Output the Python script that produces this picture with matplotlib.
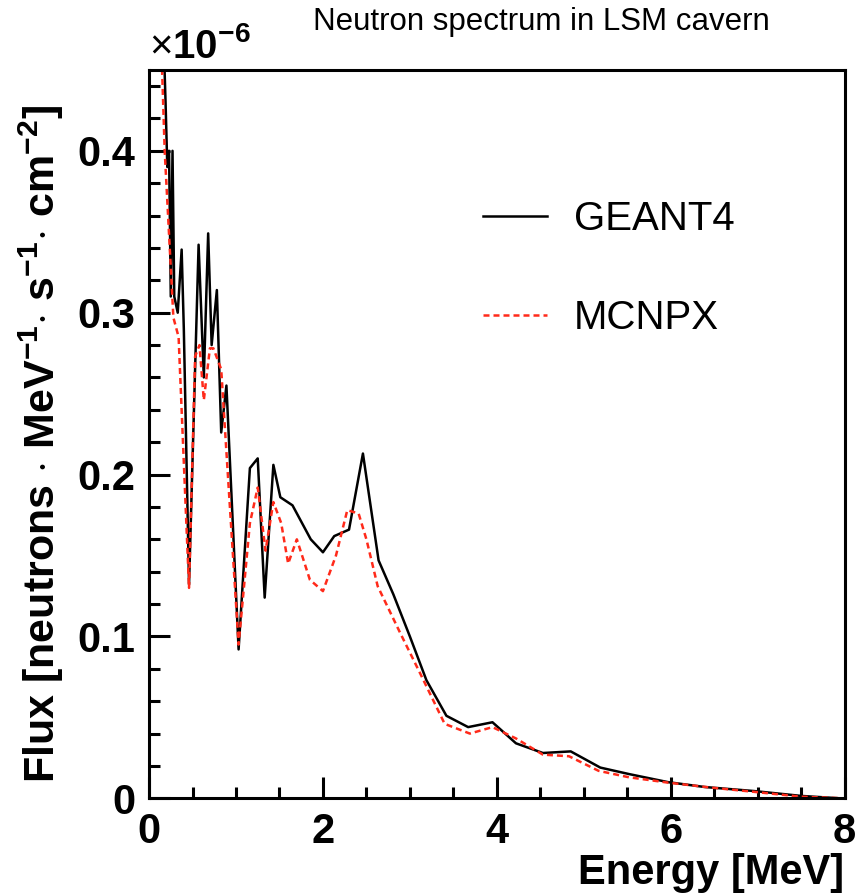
import numpy as np
import matplotlib.pyplot as plt
from matplotlib.ticker import MultipleLocator, FuncFormatter

plt.rcParams['font.family'] = ['Liberation Sans', 'DejaVu Sans']
plt.rcParams['mathtext.fontset'] = 'custom'
plt.rcParams['mathtext.rm'] = 'Liberation Sans'
plt.rcParams['mathtext.bf'] = 'Liberation Sans:bold'

# neutron flux, units of 1e-6 neutrons / MeV / s / cm2
energy_g4 = [0.15, 0.19, 0.21, 0.23, 0.25, 0.27, 0.29, 0.33, 0.375, 0.40, 0.46,
             0.57, 0.63, 0.68, 0.72, 0.78, 0.83, 0.89, 1.03, 1.16, 1.25, 1.33,
             1.43, 1.51, 1.65, 1.86, 2.00, 2.13, 2.30, 2.46, 2.64, 2.81, 3.00,
             3.19, 3.42, 3.67, 3.95, 4.22, 4.53, 4.85, 5.19, 5.52, 5.97, 6.39,
             6.96, 7.50, 7.95]
flux_g4 = [0.50, 0.43, 0.39, 0.40, 0.31, 0.40, 0.31, 0.30, 0.339, 0.29, 0.132,
           0.342, 0.26, 0.349, 0.28, 0.314, 0.226, 0.255, 0.092, 0.204, 0.210,
           0.124, 0.206, 0.186, 0.181, 0.160, 0.152, 0.162, 0.166, 0.213, 0.147,
           0.126, 0.100, 0.073, 0.051, 0.044, 0.047, 0.034, 0.028, 0.029, 0.019,
           0.015, 0.010, 0.007, 0.0045, 0.0015, 0.0]

energy_mc = [0.12, 0.18, 0.28, 0.34, 0.46, 0.53, 0.58, 0.63, 0.70, 0.74, 0.83,
             1.03, 1.16, 1.25, 1.34, 1.43, 1.52, 1.60, 1.70, 1.85, 2.00, 2.15,
             2.28, 2.41, 2.50, 2.63, 2.89, 3.12, 3.40, 3.69, 3.95, 4.22, 4.53,
             4.83, 5.17, 5.52, 5.97, 6.47, 6.96, 7.50, 8.00]
flux_mc = [0.50, 0.40, 0.297, 0.285, 0.13, 0.273, 0.28, 0.246, 0.278, 0.278,
           0.265, 0.095, 0.17, 0.192, 0.153, 0.183, 0.17, 0.145, 0.16, 0.135,
           0.128, 0.15, 0.178, 0.176, 0.16, 0.131, 0.102, 0.077, 0.046, 0.040,
           0.044, 0.037, 0.027, 0.026, 0.017, 0.013, 0.0097, 0.0066, 0.004,
           0.001, 0.0]

fig = plt.figure(figsize=(8.63, 8.96), dpi=100)
ax = fig.add_axes([0.1727, 0.109, 0.806, 0.813])

ax.plot(energy_g4, flux_g4, color='black', lw=1.8, label='GEANT4')
ax.plot(energy_mc, flux_mc, color='#ff2a1a', lw=1.8, ls=(0, (2.4, 1.6)),
        label='MCNPX')

ax.set_xlim(0, 8)
ax.set_ylim(0, 0.45)

ax.xaxis.set_major_locator(MultipleLocator(2))
ax.xaxis.set_minor_locator(MultipleLocator(0.5))
ax.yaxis.set_major_locator(MultipleLocator(0.1))
ax.yaxis.set_minor_locator(MultipleLocator(0.02))
ax.yaxis.set_major_formatter(FuncFormatter(lambda v, p: '0' if v == 0 else '%.1f' % v))

ax.tick_params(which='both', direction='in', top=False, right=False,
               width=2.2, labelsize=30, pad=10)
ax.tick_params(which='major', length=15)
ax.tick_params(which='minor', length=8)
for lab in ax.get_xticklabels() + ax.get_yticklabels():
    lab.set_fontweight('bold')
for sp in ax.spines.values():
    sp.set_linewidth(2.2)

ax.set_xlabel('Energy [MeV]', fontsize=30, fontweight='bold', ha='right')
ax.xaxis.set_label_coords(1.0, -0.075)
ax.set_ylabel(r'Flux [neutrons $\cdot$ MeV$^{\mathbf{-1}}$$\cdot$ s$^{\mathbf{-1}}$$\cdot$ cm$^{\mathbf{-2}}$]',
              fontsize=31, fontweight='bold')
ax.yaxis.set_label_coords(-0.12, 0.487)

ax.text(0.0, 1.005, r'$\times$10$^{\mathbf{-6}}$', transform=ax.transAxes,
        fontsize=29, fontweight='bold', ha='left', va='bottom')
fig.text(0.627, 0.976, 'Neutron spectrum in LSM cavern', fontsize=22.5,
         ha='center', va='center')

ax.legend(loc='upper left', bbox_to_anchor=(0.457, 0.843), frameon=False,
          fontsize=29, handlelength=1.6, handletextpad=0.65, labelspacing=1.5,
          borderaxespad=0)

fig.savefig('out.png', dpi=100)
